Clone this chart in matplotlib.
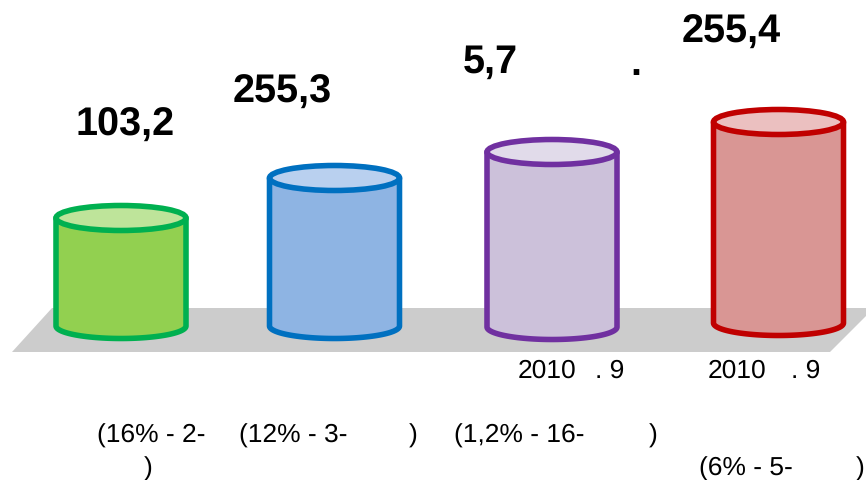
import numpy as np
import matplotlib
matplotlib.use("Agg")
import matplotlib.pyplot as plt
from matplotlib.patches import Ellipse, Polygon

plt.rcParams["font.family"] = ["Liberation Sans", "DejaVu Sans"]
plt.rcParams["text.hinting"] = "no_hinting"

# cylinder heights
bar_heights = [108, 148, 175, 201]
value_labels = ["103,2", "255,3", "5,7", "255,4"]
share_labels = ["(16% - 2-", "(12% - 3-", "(1,2% - 16-", "(6% - 5-"]

# layout and colours
centers = [121, 334.5, 552, 778.5]
bases = [327, 327, 328, 324]
half_w = 65
half_h = 12.5
edge_colors = ["#00B050", "#0070C0", "#7030A0", "#C00000"]
body_colors = ["#92D050", "#8EB4E3", "#CCC1DA", "#D99694"]
top_colors = ["#BEE49A", "#B9D0EF", "#E1DBEA", "#EBC0C0"]

fig = plt.figure(figsize=(8.66, 4.81), dpi=100)
ax = fig.add_axes([0, 0, 1, 1])
ax.set_xlim(0, 866)
ax.set_ylim(481, 0)
ax.axis("off")

# grey floor
ax.add_patch(Polygon([(12, 353), (52, 309), (874, 309), (830, 353)],
                     closed=True, facecolor="#CCCCCC", edgecolor="none"))

# cylinders
for i in range(len(bar_heights)):
    cx = centers[i]
    base = bases[i]
    top = base - bar_heights[i]
    t = np.linspace(0, np.pi, 60)
    arc = np.column_stack([cx + half_w * np.cos(t), base + half_h * np.sin(t)])
    body = np.vstack([[[cx + half_w, top]], arc, [[cx - half_w, top]]])
    ax.add_patch(Polygon(body, closed=True, facecolor=body_colors[i],
                         edgecolor=edge_colors[i], linewidth=4, joinstyle="round"))
    ax.add_patch(Ellipse((cx, top), half_w * 2, half_h * 2, facecolor=top_colors[i],
                         edgecolor=edge_colors[i], linewidth=4))

# big numbers
big = dict(fontsize=28.5, fontweight="bold", color="black", ha="center", va="center")
ax.text(125, 125, value_labels[0], **big)
ax.text(282, 92, value_labels[1], **big)
ax.text(490, 62, value_labels[2], **big)
ax.text(636, 65, ".", **big)
ax.text(731, 32, value_labels[3], **big)

# small labels
small = dict(fontsize=19, color="black", ha="left", va="center")
ax.text(518, 371, "2010", **small)
ax.text(595, 371, ". 9", **small)
ax.text(708, 371, "2010", **small)
ax.text(791, 371, ". 9", **small)
ax.text(97, 436, share_labels[0], **small)
ax.text(144, 469, ")", **small)
ax.text(239, 436, share_labels[1], **small)
ax.text(409, 436, ")", **small)
ax.text(454, 436, share_labels[2], **small)
ax.text(649, 436, ")", **small)
ax.text(699, 469, share_labels[3], **small)
ax.text(856, 469, ")", **small)

fig.savefig("out.png", dpi=100)
